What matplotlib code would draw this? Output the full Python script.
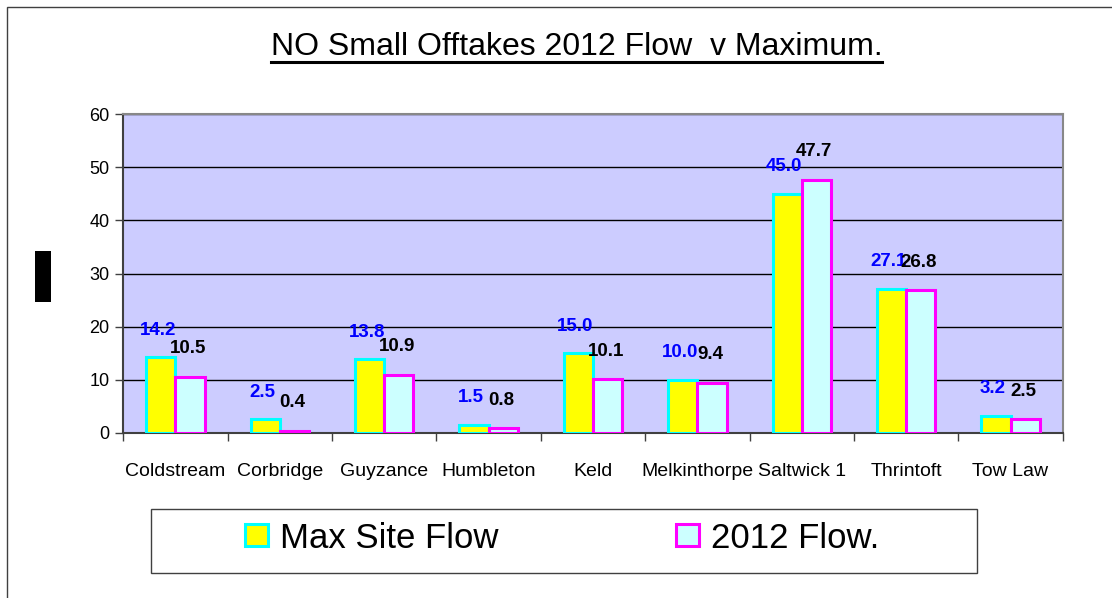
import matplotlib
matplotlib.use("Agg")
import matplotlib.pyplot as plt
from matplotlib.patches import Rectangle
from matplotlib.lines import Line2D
import numpy as np

categories = ["Coldstream", "Corbridge", "Guyzance", "Humbleton", "Keld",
              "Melkinthorpe", "Saltwick 1", "Thrintoft", "Tow Law"]
max_site_flow = [14.2, 2.5, 13.8, 1.5, 15.0, 10.0, 45.0, 27.1, 3.2]
flow_2012 = [10.5, 0.4, 10.9, 0.8, 10.1, 9.4, 47.7, 26.8, 2.5]
series_names = ["Max Site Flow", "2012 Flow."]
title_text = "NO Small Offtakes 2012 Flow  v Maximum."
yticks = [0, 10, 20, 30, 40, 50, 60]

plt.rcParams['font.family'] = ['Liberation Sans', 'DejaVu Sans']

W, H = 1112, 598
fig = plt.figure(figsize=(W / 100, H / 100), dpi=100)
fig.patch.set_facecolor("white")

def fx(px):
    return px / W

def fy(py):
    return (H - py) / H

# outer border
fig.patches.append(Rectangle((fx(7.3), fy(620)), fx(1130) - fx(7.3), fy(7.3) - fy(620),
                             transform=fig.transFigure, fill=False,
                             edgecolor="#404040", linewidth=1.0, zorder=0))
# black block (y-axis title placeholder)
fig.patches.append(Rectangle((fx(35), fy(302)), fx(51) - fx(35), fy(251) - fy(302),
                             transform=fig.transFigure, facecolor="black",
                             edgecolor="none", zorder=1))

ax_l, ax_r, ax_t, ax_b = 123.3, 1062.7, 114.3, 432.7
ax = fig.add_axes([fx(ax_l), fy(ax_b), fx(ax_r) - fx(ax_l), fy(ax_t) - fy(ax_b)])
ax.set_facecolor("#CCCCFF")

x = np.arange(len(categories))
bw = 0.28
b1 = ax.bar(x - bw / 2, max_site_flow, bw, facecolor="#FFFF00",
            edgecolor="#00FFFF", linewidth=2.2, zorder=3)
b2 = ax.bar(x + bw / 2, flow_2012, bw, facecolor="#CCFFFF",
            edgecolor="#FF00FF", linewidth=2.2, zorder=3)

for xi, v in zip(x, max_site_flow):
    ax.annotate(f"{v:.1f}", (xi - bw / 2, v), xytext=(-3, 27),
                textcoords="offset pixels", ha="center", va="center",
                fontsize=13.5, fontweight="bold", color="#0000FF", zorder=5,
                annotation_clip=False)
for xi, v in zip(x, flow_2012):
    ax.annotate(f"{v:.1f}", (xi + bw / 2, v), xytext=(-2, 28),
                textcoords="offset pixels", ha="center", va="center",
                fontsize=13.5, fontweight="bold", color="black", zorder=6,
                annotation_clip=False)

ax.set_xlim(-0.5, len(categories) - 0.5)
ax.set_ylim(0, 60)
ax.set_yticks(yticks)
ax.set_yticklabels([str(t) for t in yticks], fontsize=13)
ax.yaxis.grid(True, color="black", linewidth=1.0, zorder=1)
ax.set_axisbelow(True)

ax.set_xticks(np.arange(-0.5, len(categories), 1.0))
ax.set_xticklabels([])
ax.set_xticks(x, minor=True)
ax.set_xticklabels(categories, minor=True, fontsize=14)
ax.tick_params(axis="x", which="minor", length=0, pad=22)
ax.tick_params(axis="x", which="major", length=6, width=1, color="#404040", direction="out")
ax.tick_params(axis="y", length=6, width=1, color="#404040", direction="out", pad=4)

for s in ["left", "bottom"]:
    ax.spines[s].set_color("#404040")
    ax.spines[s].set_linewidth(1.5)
for s in ["top", "right"]:
    ax.spines[s].set_color("#888888")
    ax.spines[s].set_linewidth(1.5)

# title
title = fig.text(fx(576.5), fy(55), title_text, ha="center", va="baseline",
                 fontsize=23, color="black")

# legend frame
fig.patches.append(Rectangle((fx(151), fy(573)), fx(977) - fx(151), fy(509) - fy(573),
                             transform=fig.transFigure, facecolor="white",
                             edgecolor="#404040", linewidth=1.0, zorder=1))
h1 = Rectangle((0, 0), 1, 1, facecolor="#FFFF00", edgecolor="#00FFFF", linewidth=2.2)
h2 = Rectangle((0, 0), 1, 1, facecolor="#CCFFFF", edgecolor="#FF00FF", linewidth=2.2)
leg = fig.legend([h1, h2], series_names, loc="center left",
                 bbox_to_anchor=(fx(245), fy(538)), ncol=2, frameon=False,
                 fontsize=25, handlelength=0.66, handleheight=0.6,
                 handletextpad=0.35, columnspacing=5.1, borderpad=0,
                 borderaxespad=0)

# underline for title
fig.canvas.draw()
bb = title.get_window_extent()
fig.lines.append(Line2D([bb.x0 / W, bb.x1 / W], [fy(62), fy(62)],
                        transform=fig.transFigure, color="black", linewidth=2.2))

fig.savefig("out.png", dpi=100, facecolor="white")
